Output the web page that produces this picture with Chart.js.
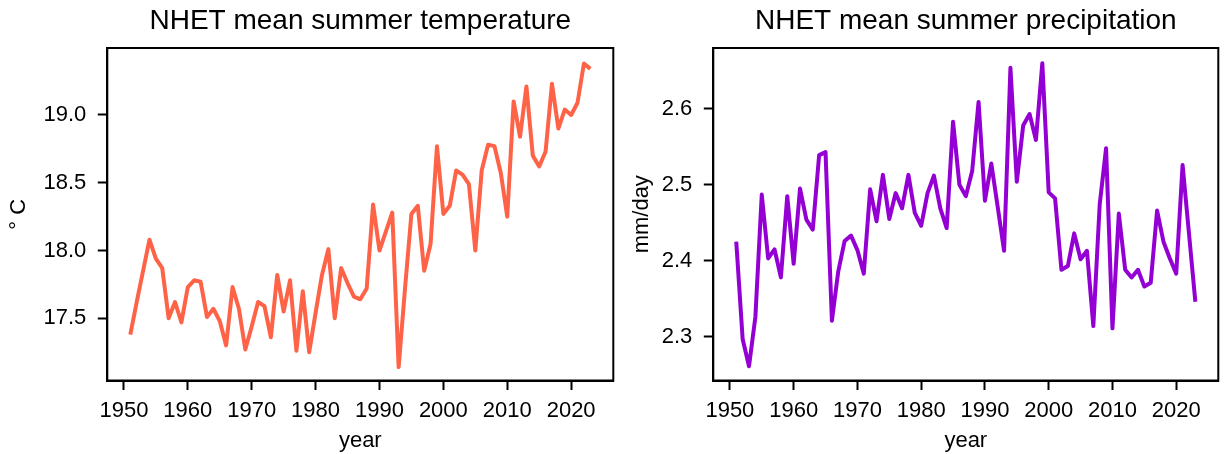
<!DOCTYPE html>
<html>
<head>
<meta charset="utf-8">
<script src="https://cdn.jsdelivr.net/npm/chart.js@4.4.1/dist/chart.umd.min.js"></script>
<style>
  body { margin: 0; background: #fff; width: 1228px; height: 454px; position: relative; overflow: hidden; }
  canvas { position: absolute; top: 0; }
  #tempChart { left: 0; }
  #precChart { left: 624px; }
</style>
</head>
<body>
<canvas id="tempChart" width="624" height="454"></canvas>
<canvas id="precChart" width="604" height="454"></canvas>
<script>
const years = [
  1951, 1952, 1953, 1954, 1955, 1956, 1957, 1958, 1959, 1960,
  1961, 1962, 1963, 1964, 1965, 1966, 1967, 1968, 1969, 1970,
  1971, 1972, 1973, 1974, 1975, 1976, 1977, 1978, 1979, 1980,
  1981, 1982, 1983, 1984, 1985, 1986, 1987, 1988, 1989, 1990,
  1991, 1992, 1993, 1994, 1995, 1996, 1997, 1998, 1999, 2000,
  2001, 2002, 2003, 2004, 2005, 2006, 2007, 2008, 2009, 2010,
  2011, 2012, 2013, 2014, 2015, 2016, 2017, 2018, 2019, 2020,
  2021, 2022, 2023
];

// summer mean temperature, deg C
const temperature = [
  17.38, 17.62, 17.85, 18.08, 17.94, 17.87, 17.50, 17.62, 17.47, 17.73,
  17.78, 17.77, 17.51, 17.57, 17.48, 17.30, 17.73, 17.57, 17.27, 17.44,
  17.62, 17.59, 17.36, 17.82, 17.55, 17.78, 17.26, 17.70, 17.25, 17.54,
  17.82, 18.01, 17.50, 17.87, 17.76, 17.66, 17.64, 17.72, 18.34, 18.00,
  18.14, 18.28, 17.14, 17.72, 18.27, 18.33, 17.85, 18.05, 18.77, 18.27,
  18.33, 18.59, 18.56, 18.49, 18.00, 18.59, 18.78, 18.77, 18.57, 18.25,
  19.10, 18.84, 19.21, 18.70, 18.62, 18.73, 19.23, 18.90, 19.04, 19.00,
  19.09, 19.38, 19.34
];

// summer mean precipitation, mm/day
const precipitation = [
  2.425, 2.297, 2.261, 2.326, 2.487, 2.403, 2.415, 2.378, 2.485, 2.396,
  2.495, 2.454, 2.441, 2.539, 2.543, 2.321, 2.386, 2.426, 2.433, 2.414,
  2.383, 2.494, 2.452, 2.513, 2.455, 2.489, 2.469, 2.513, 2.463, 2.446,
  2.489, 2.512, 2.469, 2.443, 2.583, 2.500, 2.485, 2.518, 2.609, 2.479,
  2.528, 2.471, 2.413, 2.654, 2.504, 2.578, 2.593, 2.559, 2.660, 2.490,
  2.482, 2.388, 2.393, 2.436, 2.402, 2.413, 2.314, 2.474, 2.548, 2.311,
  2.462, 2.388, 2.378, 2.388, 2.366, 2.371, 2.466, 2.425, 2.403, 2.383,
  2.526, 2.436, 2.346
];

const yearTicks = [1950, 1960, 1970, 1980, 1990, 2000, 2010, 2020];
const tempTicks = [17.5, 18.0, 18.5, 19.0];
const precTicks = [2.3, 2.4, 2.5, 2.6];

Chart.defaults.font.family = '"Liberation Sans", Arial, sans-serif';
Chart.defaults.color = '#000';

// matplotlib style closed frame around the plot area
const framePlugin = {
  id: 'frame',
  afterDraw(chart) {
    const a = chart.chartArea;
    const ctx = chart.ctx;
    ctx.save();
    ctx.strokeStyle = '#000';
    ctx.lineWidth = 2;
    ctx.strokeRect(a.left, a.top, a.right - a.left, a.bottom - a.top);
    ctx.restore();
  }
};

const makeChart = (canvasId, cfg) => {
  const ctx = document.getElementById(canvasId).getContext('2d');
  const points = years.map((yr, i) => ({ x: yr, y: cfg.values[i] }));

  return new Chart(ctx, {
    type: 'line',
    data: {
      datasets: [{
        data: points,
        borderColor: cfg.color,
        borderWidth: 4,
        borderJoinStyle: 'round',
        pointRadius: 0,
        tension: 0,
        fill: false
      }]
    },
    options: {
      responsive: false,
      animation: false,
      layout: { padding: { left: 0, right: cfg.padRight, top: 0, bottom: 0 } },
      plugins: {
        legend: { display: false },
        tooltip: { enabled: false },
        title: {
          display: true,
          text: cfg.title,
          fullSize: false,
          color: '#000',
          font: { size: 28, weight: 'normal' },
          padding: { top: 4.2, bottom: 10.2 }
        }
      },
      scales: {
        x: {
          type: 'linear',
          min: 1947.4,
          max: 2026.6,
          afterBuildTicks: (s) => { s.ticks = yearTicks.map(v => ({ value: v })); },
          afterFit: (s) => { s.height = 73.5; },
          ticks: {
            font: { size: 22 },
            padding: 7.3,
            maxRotation: 0,
            autoSkip: false,
            callback: (v) => String(v)
          },
          grid: { drawOnChartArea: false, tickLength: 9.5, tickWidth: 2, tickColor: '#000' },
          border: { display: true, color: '#000', width: 2 },
          title: { display: true, text: 'year', font: { size: 22 }, padding: { top: 0, bottom: 0 } }
        },
        y: {
          min: cfg.yMin,
          max: cfg.yMax,
          afterBuildTicks: (s) => { s.ticks = cfg.ticks.map(v => ({ value: v })); },
          afterFit: (s) => { s.width = cfg.yWidth; },
          ticks: {
            font: { size: 22 },
            padding: 11.5,
            autoSkip: false,
            callback: (v) => v.toFixed(1)
          },
          grid: { drawOnChartArea: false, tickLength: 9.5, tickWidth: 2, tickColor: '#000' },
          border: { display: true, color: '#000', width: 2 },
          title: { display: true, text: cfg.yLabel, font: { size: 22 }, padding: { top: cfg.yTitlePad, bottom: 0 } }
        }
      }
    },
    plugins: [framePlugin]
  });
};

makeChart('tempChart', {
  values: temperature,
  color: '#ff6347',
  title: 'NHET mean summer temperature',
  yLabel: '° C',
  yMin: 17.041,
  yMax: 19.494,
  ticks: tempTicks,
  yWidth: 107.3,
  yTitlePad: 5.8,
  padRight: 10.7
});

makeChart('precChart', {
  values: precipitation,
  color: '#9400d3',
  title: 'NHET mean summer precipitation',
  yLabel: 'mm/day',
  yMin: 2.2423,
  yMax: 2.680,
  ticks: precTicks,
  yWidth: 89.3,
  yTitlePad: 4.5,
  padRight: 9.7
});
</script>
</body>
</html>
